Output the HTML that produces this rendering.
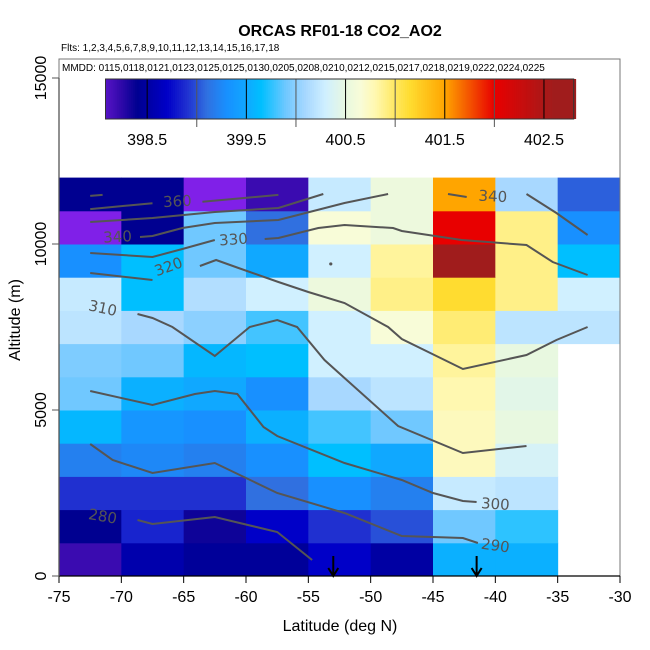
<!DOCTYPE html>
<html><head><meta charset="utf-8"><style>
html,body{margin:0;padding:0;background:#fff}
svg{display:block;font-family:"Liberation Sans",sans-serif}
</style></head><body>
<svg id="chart" width="650" height="650" viewBox="0 0 650 650" xmlns="http://www.w3.org/2000/svg">
<text x="340" y="36" text-anchor="middle" font-size="16" font-weight="bold">ORCAS RF01-18 CO2_AO2</text>
<text x="61" y="51" font-size="10">Flts: 1,2,3,4,5,6,7,8,9,10,11,12,13,14,15,16,17,18</text>
<text x="62" y="71" font-size="10">MMDD: 0115,0118,0121,0123,0125,0125,0130,0205,0208,0210,0212,0215,0217,0218,0219,0222,0224,0225</text>
<g id="cells"></g>
<g id="contours"></g>
<g id="cbar"></g>
<g id="axes"></g>
<text x="340" y="631" text-anchor="middle" font-size="16">Latitude (deg N)</text>
<text transform="translate(20,320) rotate(-90)" text-anchor="middle" font-size="16">Altitude (m)</text>
</svg>
<script>
const lats = [-75,-70,-65,-60,-55,-50,-45,-40,-35];
const alts = [0,1000,2000,3000,4000,5000,6000,7000,8000,9000,10000,11000];
// CO2 values, rows bottom (0-1km) to top (11-12km); null = no data
const co2 = [
 [398.2,398.55,398.45,398.45,398.7,398.5,399.55,399.55,null],
 [398.4,398.85,398.35,398.7,398.9,399.0,399.9,399.75,null],
 [398.9,398.9,398.9,399.1,399.3,399.2,400.25,400.2,null],
 [399.2,399.25,399.2,399.3,399.65,399.5,400.75,400.35,null],
 [399.6,399.35,399.3,399.55,399.8,399.9,400.75,400.5,null],
 [399.9,399.55,399.5,399.3,400.1,400.2,400.8,400.45,null],
 [399.95,399.9,399.6,399.65,400.3,400.3,400.85,400.5,null],
 [400.2,400.1,400.0,399.8,400.3,400.65,400.95,400.2,400.2],
 [400.25,399.65,400.15,400.3,400.55,400.9,401.15,400.9,400.3],
 [399.3,399.65,399.9,399.5,400.3,400.85,402.6,400.9,399.65],
 [397.9,398.4,399.9,399.1,400.65,400.55,402.0,400.9,399.3],
 [398.4,398.4,397.9,398.2,400.25,400.55,401.5,400.1,399.05]
];
const cbarMin = 398.08, cbarMax = 402.8;
const cbarLabels = [398.5,399.5,400.5,401.5,402.5];
const cbarLines = [398.5,399,399.5,400,400.5,401,401.5,402,402.5];
const xTicks = [-75,-70,-65,-60,-55,-50,-45,-40,-35,-30];
const yTicks = [0,5000,10000,15000];
const contourLevels = [360,360,350,340,340,340,330,330,320,310,300,290,280];
const contourLines = [
 [[-72.5,11450],[-71.5,11480]],
 [[-72.5,11050],[-67.5,11230]],
 [[-63.5,11270],[-57.4,11480]],
 [[-72.5,10662],[-67.5,10783],[-62.5,10964],[-57.4,11084],[-53.8,11506]],
 [[-68.5,10211],[-67.5,10241],[-65.1,10482],[-62.5,10632],[-57.4,10723],[-52.1,11235],[-48.6,11506]],
 [[-43.8,11506],[-42.3,11416]],
 [[-37.5,11506],[-35.1,10934],[-32.6,10271]],
 [[-72.5,9729],[-67.5,9608],[-65.1,9849],[-62.5,10120]],
 [[-58.5,10150],[-57.4,10181],[-54.2,10482],[-52.1,10572],[-48.2,10482],[-47.5,10391],[-42.7,10120],[-37.5,9970],[-35.4,9458],[-32.6,9066]],
 [[-72.5,9126],[-67.5,8915]],
 [[-63.7,9337],[-62.4,9518],[-60.6,9277],[-57.4,8855],[-55.0,8554],[-52.1,8223],[-48.6,7500],[-47.5,7138],[-42.6,6235],[-37.5,6657],[-35.1,7108],[-32.6,7500]],
 [[-68.7,7891],[-67.5,7771],[-65.9,7500],[-62.5,6626],[-59.7,7500],[-57.5,7711],[-55.9,7500],[-53.7,6506],[-52.1,5964],[-47.8,4518],[-42.6,3705],[-37.5,3916]],
 [[-72.5,5572],[-67.5,5151],[-64.1,5482],[-62.5,5572],[-60.7,5482],[-58.6,4488],[-57.5,4217],[-52.1,3404],[-47.5,2892],[-45.0,2500],[-42.6,2259],[-41.5,2229]],
 [[-72.5,3976],[-70.7,3494],[-67.5,3102],[-62.5,3404],[-57.5,2500],[-52.1,1898],[-47.5,1205],[-42.6,1145],[-41.4,994]],
 [[-68.7,1687],[-67.5,1566],[-62.5,1777],[-57.5,1325],[-54.7,482]]
];
const contourLabelText = ["360","340","330","320","310","300","290","280","340"];
const contourLabelPos = [[-65.5,11270],[-70.3,10200],[-61.0,10120],[-66.2,9300],[-71.5,8050],[-40.0,2150],[-40.0,900],[-71.5,1780],[-40.2,11420]];
const contourLabelRot = [-3,-3,-4,-20,12,4,8,10,3];
const arrowLats = [-53.0,-41.5];

const NS="http://www.w3.org/2000/svg";
const X = v => 59 + (v+75)*(561/45);
const Y = a => 576 - a*0.0332;
const CB = v => 105.5 + (v-cbarMin)*99.2;
const stops = [[397.9,"#8020e8"],[398.2,"#3a0bb0"],[398.4,"#000090"],[398.7,"#0000c8"],[398.9,"#2030d0"],[399.1,"#3070e0"],[399.3,"#1890ff"],[399.5,"#10a8ff"],[399.65,"#00bfff"],[399.9,"#70c8ff"],[400.1,"#a8d8ff"],[400.3,"#d0f0ff"],[400.5,"#e8f8e0"],[400.65,"#f8fcd8"],[400.8,"#fff8b0"],[401.0,"#ffe860"],[401.15,"#ffdc30"],[401.5,"#ffa500"],[402.0,"#e80000"],[402.6,"#a01c1c"]];
function hx(c){return [1,3,5].map(i=>parseInt(c.substr(i,2),16));}
function col(v){
 if(v<=stops[0][0])return stops[0][1];
 for(let i=1;i<stops.length;i++){ if(v<=stops[i][0]){
  const t=(v-stops[i-1][0])/(stops[i][0]-stops[i-1][0]);
  const a=hx(stops[i-1][1]),b=hx(stops[i][1]);
  return "rgb("+a.map((x,k)=>Math.round(x+(b[k]-x)*t)).join(",")+")";}}
 return stops[stops.length-1][1];
}
function mk(tag,attrs,parent){const e=document.createElementNS(NS,tag);for(const k in attrs)e.setAttribute(k,attrs[k]);parent.appendChild(e);return e;}

const gC=document.getElementById('cells');
co2.forEach((row,r)=>row.forEach((v,c)=>{
 if(v===null)return;
 const x0=X(lats[c]),x1=X(lats[c]+5),y0=Y(alts[r]+1000),y1=Y(alts[r]);
 const e=mk('rect',{x:x0,y:y0,width:x1-x0+0.5,height:y1-y0+0.5,fill:col(v)},gC);
 
 
}));

const gL=document.getElementById('contours');
contourLines.forEach((pts)=>{
 const e=mk('polyline',{points:pts.map(p=>X(p[0]).toFixed(1)+","+Y(p[1]).toFixed(1)).join(" "),fill:"none",stroke:"#555","stroke-width":2},gL);
 
 
});
contourLabelText.forEach((t,i)=>{
 const x=X(contourLabelPos[i][0]),y=Y(contourLabelPos[i][1]);
 const e=mk('text',{x:x,y:y,"font-size":15,fill:"#555","text-anchor":"middle","dominant-baseline":"middle",transform:"rotate("+contourLabelRot[i]+" "+x+" "+y+")","font-family":"DejaVu Sans, sans-serif"},gL);
 e.textContent=t;
 
 
});
const dot=mk('circle',{cx:X(-53.2),cy:Y(9400),r:1.6,fill:"#555"},gL);


arrowLats.forEach(l=>{
 const x=X(l);
 const e=mk('path',{d:`M${x},556 L${x},575 M${x-5},568 L${x},576 L${x+5},568`,stroke:"#000","stroke-width":2,fill:"none"},gL);
 
 
});

const gB=document.getElementById('cbar');
for(let v=cbarMin;v<cbarMax;v+=0.02){
 const e=mk('rect',{x:CB(v),y:79,width:2.4,height:40,fill:col(v+0.01)},gB);
 
 
}
cbarLines.forEach(v=>{
 const full=Number.isInteger(v);
 const e=mk('line',{x1:CB(v),x2:CB(v),y1:79,y2:full?127:119,stroke:full?"#555":"#000","stroke-width":1},gB);
 
 
});
const bf=mk('rect',{x:105.5,y:79,width:CB(cbarMax)-105.5,height:40,fill:"none",stroke:"#333","stroke-width":1},gB);


cbarLabels.forEach(v=>{
 const e=mk('text',{x:CB(v),y:145,"text-anchor":"middle","font-size":16},gB);
 e.textContent=v.toFixed(1);
 
 
});

const gA=document.getElementById('axes');
const fr=mk('rect',{x:59,y:59,width:561,height:517,fill:"none",stroke:"#777","stroke-width":1},gA);


const bx=mk('line',{x1:59,x2:620,y1:576,y2:576,stroke:"#000","stroke-width":1.3},gA);


const ly=mk('line',{x1:59,x2:59,y1:Y(0),y2:Y(15000),stroke:"#555","stroke-width":1.3},gA);


xTicks.forEach(v=>{
 const t=mk('line',{x1:X(v),x2:X(v),y1:576,y2:583,stroke:"#000"},gA);
 
 
 const e=mk('text',{x:X(v),y:602,"text-anchor":"middle","font-size":16},gA);
 e.textContent=v;
 
 
});
yTicks.forEach(v=>{
 const y=Y(v);
 const t=mk('line',{x1:52,x2:59,y1:y,y2:y,stroke:"#555"},gA);
 
 
 const e=mk('text',{x:0,y:0,"text-anchor":"middle","font-size":16,transform:`translate(46,${y}) rotate(-90)`},gA);
 e.textContent=v;
 
 
});
</script>
</body></html>
